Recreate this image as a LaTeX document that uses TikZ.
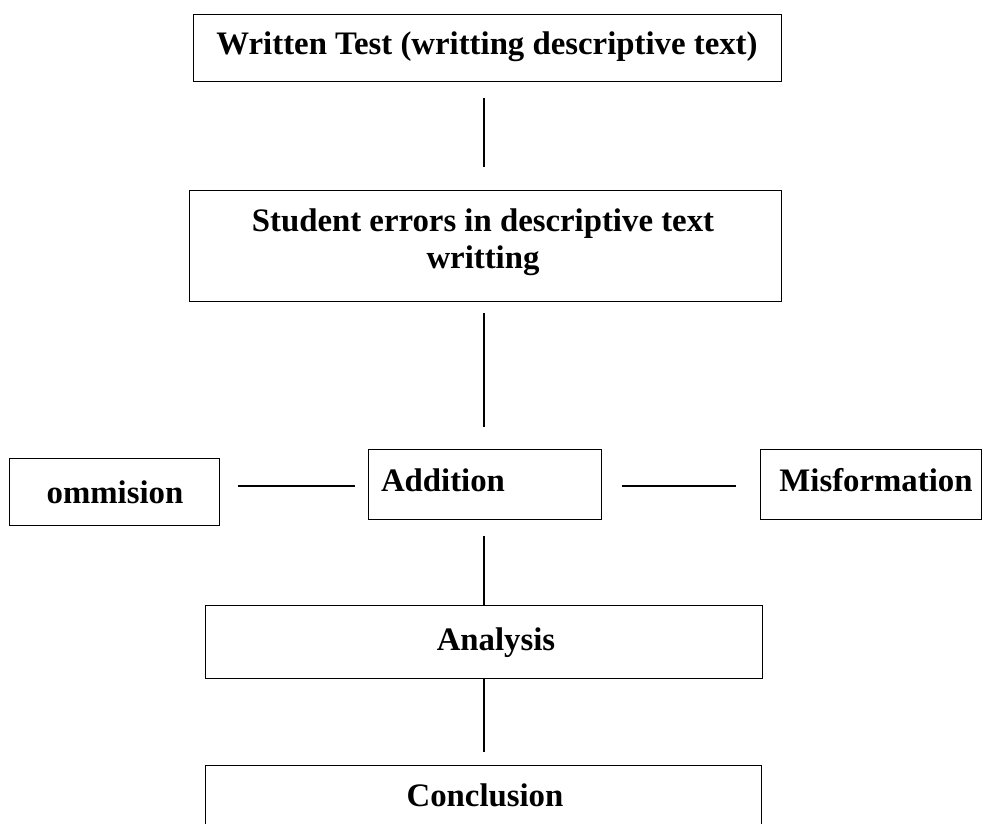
\documentclass[tikz,border=0pt]{standalone}
\usepackage{fontspec}
\setmainfont{Liberation Serif}
\begin{document}
\begin{tikzpicture}[x=1pt,y=-1pt,
  box/.style={draw, line width=1.2pt, minimum width=#1, inner sep=0pt, anchor=north west},
  lbl/.style={font=\bfseries\fontsize{32.8}{37}\selectfont, inner sep=0pt, align=center},
  conn/.style={line width=1.3pt}]
\useasboundingbox (0,0) rectangle (991,823);
\fill[white] (0,0) rectangle (991,823);
% boxes
\node[box=588pt, minimum height=67pt] (b1) at (193,14) {};
\node[box=592pt, minimum height=111pt] (b2) at (189,190) {};
\node[box=210pt, minimum height=67pt] (om) at (9,458) {};
\node[box=233pt, minimum height=70pt] (ad) at (368,449) {};
\node[box=221pt, minimum height=70pt] (mi) at (760,449) {};
\node[box=557pt, minimum height=73pt] (an) at (205,605) {};
\node[box=556pt, minimum height=90pt] (co) at (205,765) {};
% labels
\node[lbl] (t1) at (487,47) {Written Test (writting descriptive text)};
\node[lbl] (t2) at (483,242) {Student errors in descriptive text\\writting};
\node[lbl] (t3) at (115,492) {ommision};
\node[lbl] (t4) at (443,480) {Addition};
\node[lbl] (t5) at (876,480) {Misformation};
\node[lbl] (t6) at (496,643) {Analysis};
\node[lbl] (t7) at (485,795) {Conclusion};
% connector guides
\coordinate (sp) at (484,0);
\coordinate (hl) at (0,486);
% connectors
\draw[conn] ([yshift=-16pt]b1.south -| sp) -- ([yshift=23pt]b2.north -| sp);
\draw[conn] ([yshift=-11pt]b2.south -| sp) -- ([yshift=22pt]ad.north -| sp);
\draw[conn] ([xshift=18pt]om.east |- hl) -- ([xshift=-13pt]ad.west |- hl);
\draw[conn] ([xshift=20pt]ad.east |- hl) -- ([xshift=-24pt]mi.west |- hl);
\draw[conn] ([yshift=-16pt]ad.south -| sp) -- (an.north -| sp);
\draw[conn] (an.south -| sp) -- ([yshift=13pt]co.north -| sp);
\end{tikzpicture}
\end{document}
